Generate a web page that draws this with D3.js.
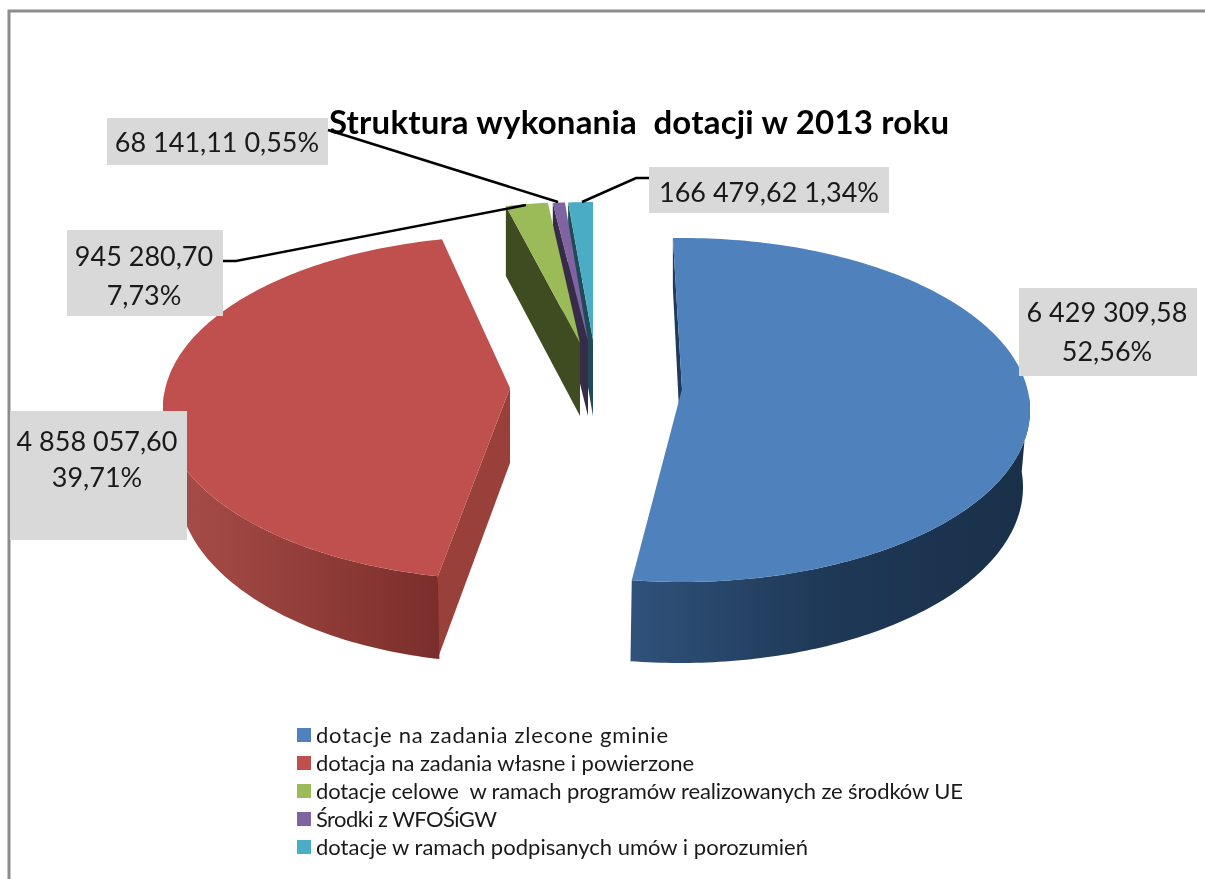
<!DOCTYPE html>
<html>
<head>
<meta charset="utf-8">
<script src="https://cdn.jsdelivr.net/npm/d3@7"></script>
<style>
    html, body { margin: 0; padding: 0; background: #fff; overflow: hidden; }
    svg { display: block; filter: blur(0.45px); }
    text { font-family: Lato, "Open Sans", sans-serif; fill: #1a1a1a; }
</style>
</head>
<body>
<svg id="chart" width="1205" height="879"></svg>
<script>
// values as printed on the chart labels
const categories = [
    "dotacje na zadania zlecone gminie",
    "dotacja na zadania własne i powierzone",
    "dotacje celowe  w ramach programów realizowanych ze środków UE",
    "Środki z WFOŚiGW",
    "dotacje w ramach podpisanych umów i porozumień"
];
const amounts = [6429309.58, 4858057.60, 945280.70, 68141.11, 166479.62];
const amountLabels = ["6 429 309,58", "4 858 057,60", "945 280,70", "68 141,11", "166 479,62"];
const percentLabels = ["52,56%", "39,71%", "7,73%", "0,55%", "1,34%"];
const title = "Struktura wykonania  dotacji w 2013 roku";

const colors = ["#4f81bd", "#c0504d", "#9bbb59", "#8064a2", "#4bacc6"];
const sideColors = ["#1f3a5a", "#9a403b", "#3f4c22", "#372c48", "#1f4a57"];
const legendWidths = [352, 378, 647, 181, 492];

// the picture is a perspective view, so every slice has its own ellipse and apex
// view = where the pie angles of that slice land on its ellipse, in degrees
const slices = [
    { cx: 682, cy: 410, rx: 348, ry: 172, ax: 682, ay: 389, view: [-1.5, 188.3], lower: { cx: 680, cy: 487, rx: 343, ry: 176 }, depth: 80, outerDepth: 50 },
    { cx: 510, cy: 408, rx: 347, ry: 172, ax: 510, ay: 388, view: [192, 348.7], lower: { cx: 508, cy: 485, rx: 330, ry: 178 }, depth: 75, outerDepth: 82 },
    { cx: 580, cy: 374, rx: 348, ry: 172, ax: 580, ay: 343, view: [-12.3, -5.3], depth: 73, outerDepth: 70 },
    { cx: 588, cy: 374, rx: 348, ry: 172, ax: 588, ay: 341, view: [-5.8, -3.8], depth: 75, outerDepth: 70 },
    { cx: 593, cy: 374, rx: 348, ry: 172, ax: 593, ay: 340, view: [-4.1, 0], depth: 76, outerDepth: 70 }
];

const labelBoxes = [
    { x: 1019, y: 288, w: 178, h: 88, lines: [0, 1], ty: [313, 352], tx: 1107 },
    { x: 10, y: 411, w: 177, h: 129, lines: [0, 1], ty: [442, 478], tx: 97 },
    { x: 67, y: 230, w: 156, h: 86, lines: [0, 1], ty: [257, 296], tx: 144 },
    { x: 107, y: 118, w: 221, h: 47, lines: [2], ty: [143], tx: 217 },
    { x: 649, y: 167, w: 240, h: 46, lines: [2], ty: [193], tx: 769 }
];
const leaders = [
    null,
    null,
    [[223, 261], [236, 261], [526, 205]],
    [[328, 130], [558, 202]],
    [[582, 202], [636, 178], [649, 178]]
];

const svg = d3.select("#chart");
const defs = svg.append("defs");
const line = d3.line();
const rad = Math.PI / 180;

// window frame, runs off the right and the bottom
svg.append("rect").attr("x", 9).attr("y", 11).attr("width", 1300).attr("height", 1000)
    .attr("fill", "#fff").attr("stroke", "#8c8c8c").attr("stroke-width", 3);

const pie = d3.pie().sort(null)(amounts);

function onEllipse(e, deg) {
    return [e.cx + e.rx * Math.sin(deg * rad), e.cy - e.ry * Math.cos(deg * rad)];
}
function arcPoints(e, from, to) {
    const n = Math.max(2, Math.ceil(Math.abs(to - from)));
    return d3.range(n + 1).map(i => onEllipse(e, from + (to - from) * i / n));
}

// front wall gradients
const wallStops = [
    { id: "wall0", x1: 630, x2: 1030, stops: ["#30527a", "#1e3856", "#1a3049"] },
    { id: "wall1", x1: 163, x2: 440, stops: ["#a84e4a", "#933e3a", "#7a2e2b"] }
];
wallStops.forEach(w => {
    const g = defs.append("linearGradient").attr("id", w.id)
        .attr("gradientUnits", "userSpaceOnUse")
        .attr("x1", w.x1).attr("x2", w.x2).attr("y1", 0).attr("y2", 0);
    w.stops.forEach((c, i) => g.append("stop").attr("offset", i / (w.stops.length - 1)).attr("stop-color", c));
});

// red and blue first, then the thin slices back to front
[1, 0, 4, 3, 2].forEach(i => {
    const s = slices[i], d = pie[i];
    const warp = d3.scaleLinear().domain([d.startAngle, d.endAngle]).range(s.view);
    const t0 = warp(d.startAngle), t1 = warp(d.endAngle);
    const g = svg.append("g").attr("class", "slice");
    const p0 = onEllipse(s, t0);

    // wall along the start edge
    g.append("path")
        .attr("d", line([p0, [s.ax, s.ay], [s.ax, s.ay + s.depth], [p0[0], p0[1] + s.outerDepth]]) + "Z")
        .attr("fill", sideColors[i]);

    // outer front wall
    if (s.lower) {
        const from = Math.max(t0, 85), to = Math.min(t1, 275);
        g.append("path")
            .attr("d", line(arcPoints(s, from, to).concat(arcPoints(s.lower, to, from))) + "Z")
            .attr("fill", "url(#wall" + i + ")");
    }

    // top face
    g.append("path")
        .attr("d", line([[s.ax, s.ay]].concat(arcPoints(s, t0, t1))) + "Z")
        .attr("fill", colors[i]);
});

// title
svg.append("text").attr("x", 329).attr("y", 134)
    .attr("font-size", 33).attr("font-weight", "bold")
    .attr("textLength", 620).attr("lengthAdjust", "spacing")
    .style("white-space", "pre").style("fill", "#000")
    .text(title);

// data labels
labelBoxes.forEach((b, i) => {
    svg.append("rect").attr("x", b.x).attr("y", b.y).attr("width", b.w).attr("height", b.h).attr("fill", "#d9d9d9");
    const rows = b.lines.length == 2 ? [amountLabels[i], percentLabels[i]] : [amountLabels[i] + " " + percentLabels[i]];
    rows.forEach((r, k) => {
        svg.append("text").attr("x", b.tx).attr("y", b.ty[k]).attr("dy", "0.35em")
            .attr("text-anchor", "middle").attr("font-size", 27).text(r);
    });
});

// leader lines
leaders.forEach(l => {
    if (!l) return;
    svg.append("path").attr("d", line(l)).attr("fill", "none").attr("stroke", "#000").attr("stroke-width", 2.5);
});

// legend
const legendY = d3.scalePoint().domain(categories).range([735, 847]);
const legend = svg.selectAll("g.legend").data(categories).enter().append("g")
    .attr("class", "legend")
    .attr("transform", d => "translate(297," + legendY(d) + ")");
legend.append("rect").attr("y", -7).attr("width", 14).attr("height", 14).attr("fill", (d, i) => colors[i]);
legend.append("text").attr("x", 19).attr("dy", "0.35em").attr("font-size", 22)
    .attr("textLength", (d, i) => legendWidths[i]).attr("lengthAdjust", "spacing")
    .style("white-space", "pre").text(d => d);
</script>
</body>
</html>
